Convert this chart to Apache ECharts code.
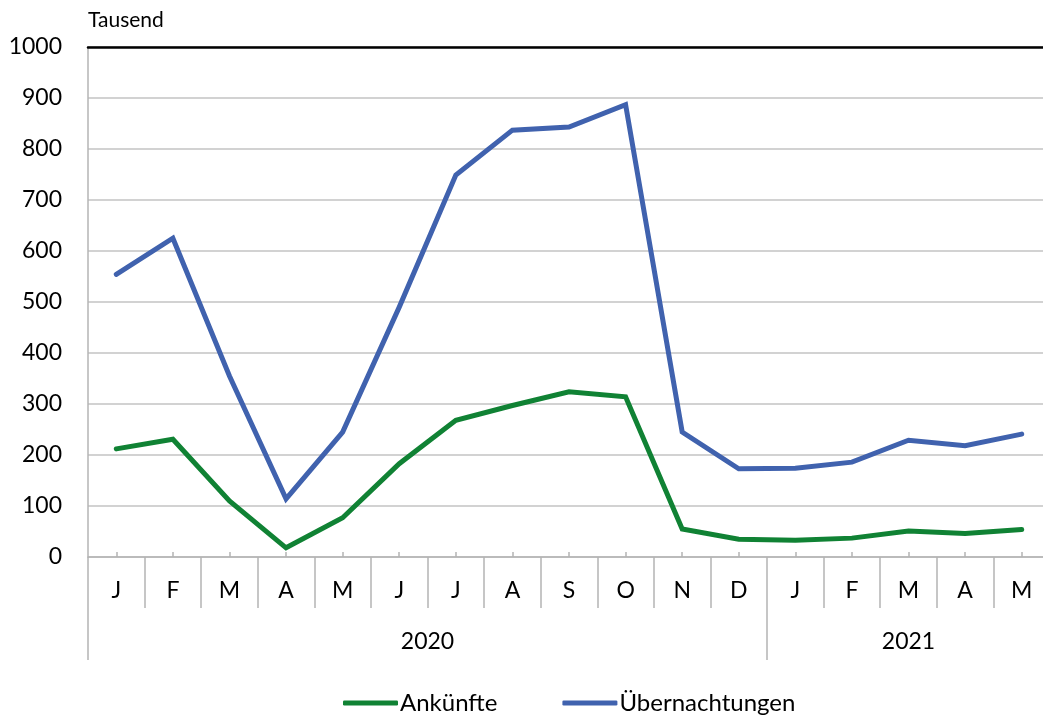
<!DOCTYPE html>
<html>
<head>
<meta charset="utf-8">
<script src="https://cdn.jsdelivr.net/npm/echarts@6/dist/echarts.min.js"></script>
<style>
  html, body { margin: 0; padding: 0; background: #fff; }
  #chart { width: 1043px; height: 720px; }
</style>
</head>
<body>
<div id="chart"></div>
<script>
// months Jan 2020 - May 2021
const months = ['J', 'F', 'M', 'A', 'M', 'J', 'J', 'A', 'S', 'O', 'N', 'D', 'J', 'F', 'M', 'A', 'M'];
const years = ['2020', '2021'];
const ankuenfte = [212, 231, 110, 18, 77, 183, 268, 297, 324, 314, 55, 35, 33, 37, 51, 46, 54];
const uebernachtungen = [554, 625, 355, 114, 245, 490, 749, 837, 843, 887, 245, 173, 174, 186, 229, 218, 241];

const FONT = 'Lato, "Open Sans", sans-serif';
const GREY = '#b4b4b4';

const chart = echarts.init(document.getElementById('chart'));

const option = {
  animation: false,
  textStyle: { fontFamily: FONT, color: '#000' },
  grid: { left: 88, right: -7, top: 47, bottom: 163, containLabel: false, outerBoundsMode: 'none' },
  legend: {
    left: 338,
    bottom: 0,
    itemWidth: 55,
    itemHeight: 5,
    itemGap: 65,
    icon: 'roundRect',
    textStyle: { fontFamily: FONT, fontSize: 24, color: '#000', padding: [0, 0, 0, -3] },
    data: ['Ankünfte', 'Übernachtungen']
  },
  xAxis: [
    {
      // month labels + small ticks at category centres
      type: 'category',
      data: months,
      position: 'bottom',
      boundaryGap: true,
      axisLine: { show: true, lineStyle: { color: GREY, width: 1.5 } },
      axisTick: { show: true, inside: true, length: 5, alignWithLabel: true, interval: 0, lineStyle: { color: GREY, width: 1.5 } },
      axisLabel: { fontSize: 23, color: '#000', margin: 22, interval: 0, fontFamily: FONT }
    },
    {
      // separators between months
      type: 'category',
      data: months,
      position: 'bottom',
      axisLine: { show: false },
      axisTick: { show: true, length: 51, interval: 0, lineStyle: { color: GREY, width: 1.5 } },
      axisLabel: { show: false }
    },
    {
      // year row
      type: 'value',
      min: 0,
      max: months.length,
      position: 'bottom',
      axisLine: { show: false },
      splitLine: { show: false },
      axisTick: { show: true, customValues: [0, 12], length: 103, lineStyle: { color: GREY, width: 1.5 } },
      axisLabel: {
        customValues: [6, 14.5],
        formatter: v => (v < 12 ? years[0] : years[1]),
        fontSize: 23, color: '#000', margin: 73, fontFamily: FONT
      }
    },
    {
      // top border line at 1000
      type: 'category',
      data: months,
      position: 'top',
      axisLine: { show: true, lineStyle: { color: '#000', width: 2.5 } },
      axisTick: { show: false },
      axisLabel: { show: false }
    }
  ],
  yAxis: {
    type: 'value',
    min: 0,
    max: 1000,
    interval: 100,
    name: 'Tausend',
    nameLocation: 'end',
    nameGap: 16,
    nameTextStyle: { fontSize: 21, color: '#000', align: 'left', fontFamily: FONT },
    axisLine: { show: true, lineStyle: { color: GREY, width: 1.5 } },
    axisTick: { show: false },
    axisLabel: { fontSize: 23, color: '#000', margin: 26, fontFamily: FONT, formatter: v => String(v) },
    splitLine: { lineStyle: { color: '#c3c3c3', width: 1.5 } }
  },
  series: [
    {
      name: 'Ankünfte',
      type: 'line',
      xAxisIndex: 0,
      data: ankuenfte,
      symbol: 'none',
      lineStyle: { color: '#108234', width: 5, cap: 'round', join: 'miter' },
      itemStyle: { color: '#108234' }
    },
    {
      name: 'Übernachtungen',
      type: 'line',
      xAxisIndex: 0,
      data: uebernachtungen,
      symbol: 'none',
      lineStyle: { color: '#4062AE', width: 5, cap: 'round', join: 'miter' },
      itemStyle: { color: '#4062AE' }
    }
  ]
};

chart.setOption(option);
</script>
</body>
</html>
